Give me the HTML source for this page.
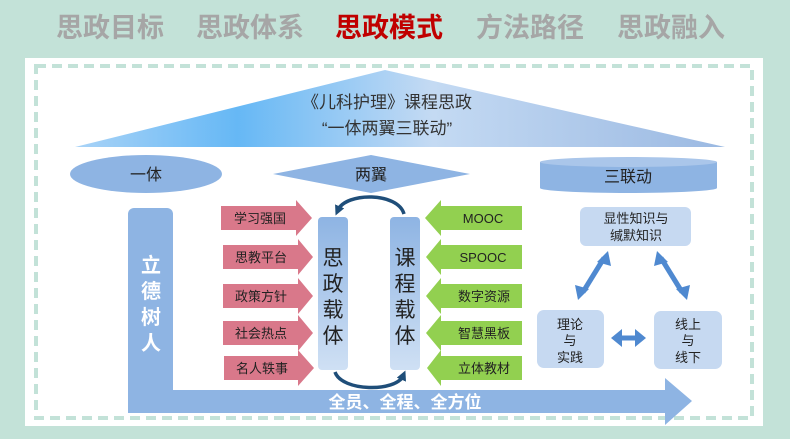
<!DOCTYPE html>
<html><head><meta charset="utf-8"><style>
html,body{margin:0;padding:0;background:#c3e2d8;}
svg{display:block;font-family:"Liberation Sans","Noto Sans CJK SC",sans-serif;}
</style></head><body>
<svg width="790" height="439" viewBox="0 0 790 439" xmlns="http://www.w3.org/2000/svg">
<defs>
<linearGradient id="tri" x1="0" y1="0" x2="1" y2="0">
<stop offset="0" stop-color="#a9d3f7"/><stop offset="0.25" stop-color="#66b8f5"/><stop offset="0.55" stop-color="#c4daf3"/><stop offset="1" stop-color="#9bb9e2"/>
</linearGradient>
<linearGradient id="pil" x1="0" y1="0" x2="0" y2="1">
<stop offset="0" stop-color="#8eb4e3"/><stop offset="1" stop-color="#cfe0f4"/>
</linearGradient>
<marker id="ah" markerWidth="10" markerHeight="10" refX="4" refY="5" orient="auto" markerUnits="userSpaceOnUse"><path d="M0,0 L10,5 L0,10 Z" fill="#1f4e79"/></marker>
</defs>
<rect width="790" height="439" fill="#c3e2d8"/>
<g font-size="27" font-weight="bold" fill="#a6a6a6" text-anchor="middle">
<text x="110" y="37">思政目标</text>
<text x="250" y="37">思政体系</text>
<text x="389" y="37" fill="#c00000">思政模式</text>
<text x="530" y="37">方法路径</text>
<text x="671" y="37">思政融入</text>
</g>
<rect x="25" y="58" width="738" height="368" fill="#fff"/>
<rect x="36" y="66" width="716" height="352" fill="none" stroke="#c3e2d8" stroke-width="4" stroke-dasharray="10,6"/>
<polygon points="385,70 75,147 725,147" fill="url(#tri)"/>
<g font-size="17" fill="#333" text-anchor="middle">
<text x="387" y="108">《儿科护理》课程思政</text>
<text x="387" y="134">“一体两翼三联动”</text>
</g>
<ellipse cx="146" cy="174" rx="76" ry="19" fill="#8eb4e3"/>
<text x="146" y="180" font-size="16" text-anchor="middle" fill="#222">一体</text>
<polygon points="273,174 371,155 470,174 371,193" fill="#8eb4e3"/>
<text x="371" y="180" font-size="16" text-anchor="middle" fill="#222">两翼</text>
<rect x="540" y="162" width="177" height="26" fill="#8eb4e3"/>
<ellipse cx="628.5" cy="188" rx="88.5" ry="5" fill="#8eb4e3"/>
<ellipse cx="628.5" cy="162" rx="88.5" ry="5" fill="#aac6ea"/>
<text x="628" y="182" font-size="16" text-anchor="middle" fill="#222">三联动</text>
<rect x="128" y="208" width="45" height="205" rx="6" fill="#8eb4e3"/>
<polygon points="128,390 665,390 665,378 692,401 665,425 665,413 128,413" fill="#8eb4e3"/>
<g font-size="20" font-weight="bold" fill="#fff" text-anchor="middle">
<text x="151" y="272">立</text><text x="151" y="298">德</text><text x="151" y="324">树</text><text x="151" y="350">人</text>
</g>
<text x="405" y="408" font-size="17" font-weight="bold" fill="#fff" text-anchor="middle">全员、全程、全方位</text>
<g fill="#d9788a">
<polygon points="221,206 296,206 296,200 312,218 296,236 296,230 221,230"/>
<polygon points="223,245 298,245 298,239 313,257 298,275 298,269 223,269"/>
<polygon points="223,284 298,284 298,278 313,296 298,314 298,308 223,308"/>
<polygon points="223,321 298,321 298,315 313,333 298,351 298,345 223,345"/>
<polygon points="224,356 298,356 298,350 314,368 298,386 298,380 224,380"/>
</g>
<g font-size="13" fill="#222" text-anchor="middle">
<text x="260" y="223">学习强国</text><text x="261" y="262">思教平台</text><text x="261" y="301">政策方针</text><text x="261" y="338">社会热点</text><text x="262" y="373">名人轶事</text>
</g>
<g fill="#92d050">
<polygon points="522,206 441,206 441,200 425,218 441,236 441,230 522,230"/>
<polygon points="522,245 441,245 441,239 426,257 441,275 441,269 522,269"/>
<polygon points="522,284 441,284 441,278 426,296 441,314 441,308 522,308"/>
<polygon points="522,321 441,321 441,315 426,333 441,351 441,345 522,345"/>
<polygon points="522,356 441,356 441,350 427,368 441,386 441,380 522,380"/>
</g>
<g font-size="13" fill="#222" text-anchor="middle">
<text x="483" y="223">MOOC</text><text x="483" y="262">SPOOC</text><text x="484" y="301">数字资源</text><text x="484" y="338">智慧黑板</text><text x="484" y="373">立体教材</text>
</g>
<rect x="318" y="217" width="30" height="153" rx="4" fill="url(#pil)"/>
<rect x="390" y="217" width="30" height="153" rx="4" fill="url(#pil)"/>
<g font-size="21" fill="#222" text-anchor="middle">
<text x="333" y="265">思</text><text x="333" y="291">政</text><text x="333" y="317">载</text><text x="333" y="343">体</text>
<text x="405" y="265">课</text><text x="405" y="291">程</text><text x="405" y="317">载</text><text x="405" y="343">体</text>
</g>
<path d="M404,214 C398,192 346,192 338,210" fill="none" stroke="#1f4e79" stroke-width="3.5" marker-end="url(#ah)"/>
<path d="M335,372 C342,392 396,392 403,376" fill="none" stroke="#1f4e79" stroke-width="3.5" marker-end="url(#ah)"/>
<rect x="580" y="207" width="111" height="39" rx="6" fill="#c6d9f1"/>
<text x="636" y="223" font-size="13" fill="#222" text-anchor="middle">显性知识与</text>
<text x="636" y="240" font-size="13" fill="#222" text-anchor="middle">缄默知识</text>
<rect x="537" y="310" width="67" height="58" rx="7" fill="#c6d9f1"/>
<g font-size="13" fill="#222" text-anchor="middle">
<text x="570" y="329">理论</text><text x="570" y="345">与</text><text x="570" y="362">实践</text>
</g>
<rect x="654" y="311" width="68" height="58" rx="7" fill="#c6d9f1"/>
<g font-size="13" fill="#222" text-anchor="middle">
<text x="688" y="329">线上</text><text x="688" y="345">与</text><text x="688" y="362">线下</text>
</g>
<g stroke="#4f89d0" stroke-width="5" fill="#4f89d0">
<line x1="604" y1="258" x2="583" y2="292"/>
<line x1="661" y1="258" x2="682" y2="292"/>
<line x1="620" y1="338" x2="640" y2="338"/>
</g>
<g fill="#4f89d0">
<polygon points="608,251 611,266 597,262"/>
<polygon points="578,300 575,285 589,289"/>
<polygon points="657,251 668,262 654,266"/>
<polygon points="687,300 676,289 690,285"/>
<polygon points="611,338 622,329 622,347"/>
<polygon points="646,338 635,329 635,347"/>
</g>
</svg>
</body></html>
